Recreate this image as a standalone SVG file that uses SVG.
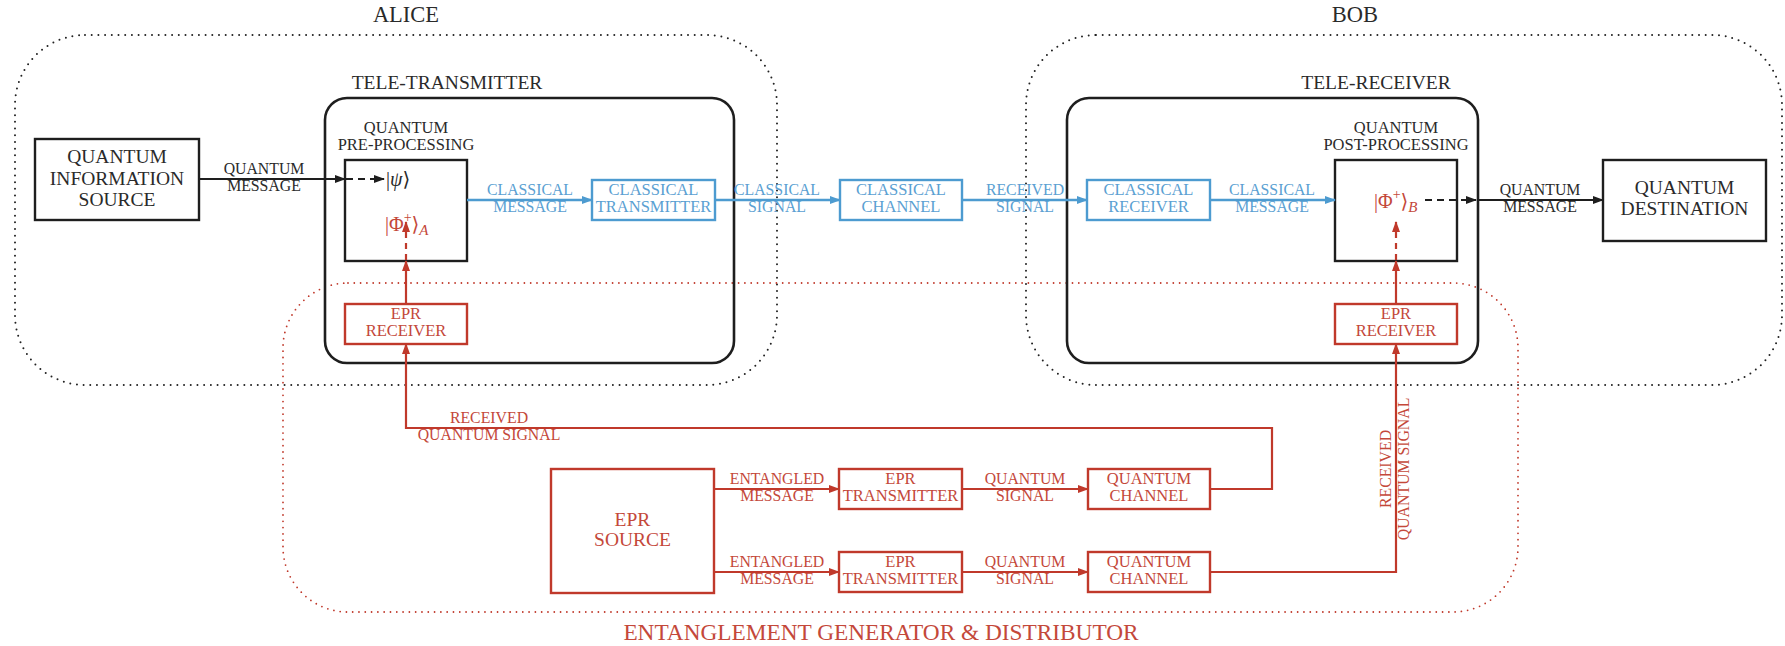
<svg xmlns="http://www.w3.org/2000/svg" width="1785" height="646" viewBox="0 0 1785 646" font-family="'Liberation Serif', 'Times New Roman', 'DejaVu Serif', serif">
<style>
text{font-family:'Liberation Serif','Times New Roman','DejaVu Serif',serif;text-anchor:middle}
.k{fill:#2a2a2a}
.b{fill:#5aa0d2}
.r{fill:#c4483a}
.big{font-size:22.5px}
.mid{font-size:19.5px}
.bx{font-size:16.5px}
.lb{font-size:15.8px}
.kbox{fill:none;stroke:#1e1e1e;stroke-width:2.4}
.bbox{fill:none;stroke:#4d9bd0;stroke-width:2.4}
.rbox{fill:none;stroke:#c0392b;stroke-width:2.4}
.tele{fill:none;stroke:#1e1e1e;stroke-width:2.6}
.dotk{fill:none;stroke:#222;stroke-width:2;stroke-linecap:round;stroke-dasharray:0 6.7}
.dotr{fill:none;stroke:#c0392b;stroke-width:1.8;stroke-linecap:round;stroke-dasharray:0 6.3}
.lk{fill:none;stroke:#1e1e1e;stroke-width:2.2}
.lb2{fill:none;stroke:#4d9bd0;stroke-width:2.6}
.lr{fill:none;stroke:#c0392b;stroke-width:2.2}
.dash{stroke-dasharray:7 5}
.dashr{stroke-dasharray:6 5}
.math{text-anchor:start;font-size:20px}
</style>
<defs>
<marker id="ak" markerUnits="userSpaceOnUse" markerWidth="11" markerHeight="8" refX="10" refY="4" orient="auto"><path d="M0,0 L11,4 L0,8 Z" fill="#1e1e1e"/></marker>
<marker id="ab" markerUnits="userSpaceOnUse" markerWidth="11" markerHeight="8" refX="10" refY="4" orient="auto"><path d="M0,0 L11,4 L0,8 Z" fill="#4d9bd0"/></marker>
<marker id="ar" markerUnits="userSpaceOnUse" markerWidth="11" markerHeight="8" refX="10" refY="4" orient="auto"><path d="M0,0 L11,4 L0,8 Z" fill="#c0392b"/></marker>
</defs>
<rect width="1785" height="646" fill="#ffffff"/>

<g id="alice">
<rect class="dotk" x="15" y="35" width="762" height="350" rx="70"/>
<text class="k big" x="406" y="22">ALICE</text>
</g>
<g id="bob">
<rect class="dotk" x="1026" y="35" width="756" height="350" rx="70"/>
<text class="k big" x="1355" y="22">BOB</text>
</g>
<g id="entanglement-generator">
<rect class="dotr" x="283" y="283" width="1235" height="329" rx="65"/>
<text class="r" x="881" y="640" font-size="23.3">ENTANGLEMENT GENERATOR &amp; DISTRIBUTOR</text>
</g>
<g id="tele-transmitter">
<rect class="tele" x="325" y="98" width="409" height="265" rx="22"/>
<text class="k mid" x="447" y="89">TELE-TRANSMITTER</text>
</g>
<g id="tele-receiver">
<rect class="tele" x="1067" y="98" width="411" height="265" rx="22"/>
<text class="k mid" x="1376" y="89">TELE-RECEIVER</text>
</g>

<g id="quantum-information-source">
<rect class="kbox" x="35" y="139" width="164" height="81"/>
<text class="k mid" x="117" y="163">QUANTUM</text>
<text class="k mid" x="117" y="184.5">INFORMATION</text>
<text class="k mid" x="117" y="206">SOURCE</text>
</g>
<g id="quantum-pre-processing">
<rect class="kbox" x="345" y="160" width="122" height="101"/>
<text class="k bx" x="406" y="133">QUANTUM</text>
<text class="k bx" x="406" y="150">PRE-PROCESSING</text>
<text class="k math" x="386" y="186">|<tspan font-style="italic">ψ</tspan>⟩</text>
<text class="r math" x="385" y="231">|Φ<tspan font-size="14" dy="-9">+</tspan><tspan dy="9">⟩</tspan><tspan font-size="15" font-style="italic" dy="4">A</tspan></text>
</g>
<g id="classical-transmitter">
<rect class="bbox" x="592" y="180" width="123" height="40"/>
<text class="b bx" x="653.5" y="195">CLASSICAL</text>
<text class="b bx" x="653.5" y="212">TRANSMITTER</text>
</g>
<g id="classical-channel">
<rect class="bbox" x="840" y="180" width="122" height="40"/>
<text class="b bx" x="901" y="195">CLASSICAL</text>
<text class="b bx" x="901" y="212">CHANNEL</text>
</g>
<g id="classical-receiver">
<rect class="bbox" x="1087" y="180" width="123" height="40"/>
<text class="b bx" x="1148.5" y="195">CLASSICAL</text>
<text class="b bx" x="1148.5" y="212">RECEIVER</text>
</g>
<g id="quantum-post-processing">
<rect class="kbox" x="1335" y="160" width="122" height="101"/>
<text class="k bx" x="1396" y="133">QUANTUM</text>
<text class="k bx" x="1396" y="150">POST-PROCESSING</text>
<text class="r math" x="1374" y="208">|Φ<tspan font-size="14" dy="-9">+</tspan><tspan dy="9">⟩</tspan><tspan font-size="15" font-style="italic" dy="4">B</tspan></text>
</g>
<g id="quantum-destination">
<rect class="kbox" x="1603" y="160" width="163" height="81"/>
<text class="k mid" x="1684.5" y="194">QUANTUM</text>
<text class="k mid" x="1684.5" y="215">DESTINATION</text>
</g>
<g id="epr-receiver-alice">
<rect class="rbox" x="345" y="304" width="122" height="40"/>
<text class="r bx" x="406" y="319">EPR</text>
<text class="r bx" x="406" y="336">RECEIVER</text>
</g>
<g id="epr-receiver-bob">
<rect class="rbox" x="1335" y="304" width="122" height="40"/>
<text class="r bx" x="1396" y="319">EPR</text>
<text class="r bx" x="1396" y="336">RECEIVER</text>
</g>
<g id="epr-source">
<rect class="rbox" x="551" y="469" width="163" height="124"/>
<text class="r mid" x="632.5" y="526">EPR</text>
<text class="r mid" x="632.5" y="546">SOURCE</text>
</g>
<g id="epr-transmitter-1">
<rect class="rbox" x="839" y="469" width="123" height="40"/>
<text class="r bx" x="900.5" y="484">EPR</text>
<text class="r bx" x="900.5" y="501">TRANSMITTER</text>
</g>
<g id="epr-transmitter-2">
<rect class="rbox" x="839" y="552" width="123" height="40"/>
<text class="r bx" x="900.5" y="567">EPR</text>
<text class="r bx" x="900.5" y="584">TRANSMITTER</text>
</g>
<g id="quantum-channel-1">
<rect class="rbox" x="1088" y="469" width="122" height="40"/>
<text class="r bx" x="1149" y="484">QUANTUM</text>
<text class="r bx" x="1149" y="501">CHANNEL</text>
</g>
<g id="quantum-channel-2">
<rect class="rbox" x="1088" y="552" width="122" height="40"/>
<text class="r bx" x="1149" y="567">QUANTUM</text>
<text class="r bx" x="1149" y="584">CHANNEL</text>
</g>

<g id="connectors">
<line class="lk" x1="199" y1="179" x2="345" y2="179" marker-end="url(#ak)"/>
<line class="lk dash" x1="346" y1="179" x2="384" y2="179" stroke-width="1.6" marker-end="url(#ak)"/>
<text class="k lb" x="264" y="174">QUANTUM</text>
<text class="k lb" x="264" y="191">MESSAGE</text>

<line class="lb2" x1="467" y1="200" x2="592" y2="200" marker-end="url(#ab)"/>
<text class="b lb" x="530" y="195">CLASSICAL</text>
<text class="b lb" x="530" y="212">MESSAGE</text>
<line class="lb2" x1="715" y1="200" x2="840" y2="200" marker-end="url(#ab)"/>
<text class="b lb" x="777" y="195">CLASSICAL</text>
<text class="b lb" x="777" y="212">SIGNAL</text>
<line class="lb2" x1="962" y1="200" x2="1087" y2="200" marker-end="url(#ab)"/>
<text class="b lb" x="1025" y="195">RECEIVED</text>
<text class="b lb" x="1025" y="212">SIGNAL</text>
<line class="lb2" x1="1210" y1="200" x2="1335" y2="200" marker-end="url(#ab)"/>
<text class="b lb" x="1272" y="195">CLASSICAL</text>
<text class="b lb" x="1272" y="212">MESSAGE</text>

<line class="lk dash" x1="1425" y1="200" x2="1476" y2="200" stroke-width="1.6" marker-end="url(#ak)"/>
<line class="lk" x1="1478" y1="200" x2="1603" y2="200" marker-end="url(#ak)"/>
<text class="k lb" x="1540" y="195">QUANTUM</text>
<text class="k lb" x="1540" y="212">MESSAGE</text>

<line class="lr" x1="406" y1="304" x2="406" y2="261" marker-end="url(#ar)"/>
<line class="lr dashr" x1="406" y1="260" x2="406" y2="222" stroke-width="1.6" marker-end="url(#ar)"/>
<line class="lr" x1="1396" y1="304" x2="1396" y2="261" marker-end="url(#ar)"/>
<line class="lr dashr" x1="1396" y1="260" x2="1396" y2="222" stroke-width="1.6" marker-end="url(#ar)"/>

<line class="lr" x1="714" y1="489" x2="839" y2="489" marker-end="url(#ar)"/>
<text class="r lb" x="777" y="484">ENTANGLED</text>
<text class="r lb" x="777" y="501">MESSAGE</text>
<line class="lr" x1="714" y1="572" x2="839" y2="572" marker-end="url(#ar)"/>
<text class="r lb" x="777" y="567">ENTANGLED</text>
<text class="r lb" x="777" y="584">MESSAGE</text>
<line class="lr" x1="962" y1="489" x2="1088" y2="489" marker-end="url(#ar)"/>
<text class="r lb" x="1025" y="484">QUANTUM</text>
<text class="r lb" x="1025" y="501">SIGNAL</text>
<line class="lr" x1="962" y1="572" x2="1088" y2="572" marker-end="url(#ar)"/>
<text class="r lb" x="1025" y="567">QUANTUM</text>
<text class="r lb" x="1025" y="584">SIGNAL</text>

<polyline class="lr" points="1210,489 1272,489 1272,428 406,428 406,344" marker-end="url(#ar)"/>
<text class="r lb" x="489" y="423">RECEIVED</text>
<text class="r lb" x="489" y="440">QUANTUM SIGNAL</text>
<polyline class="lr" points="1210,572 1396,572 1396,344" marker-end="url(#ar)"/>
<g transform="translate(1396,469) rotate(-90)">
<text class="r lb" x="0" y="-5">RECEIVED</text>
<text class="r lb" x="0" y="12.5">QUANTUM SIGNAL</text>
</g>
</g>
</svg>
